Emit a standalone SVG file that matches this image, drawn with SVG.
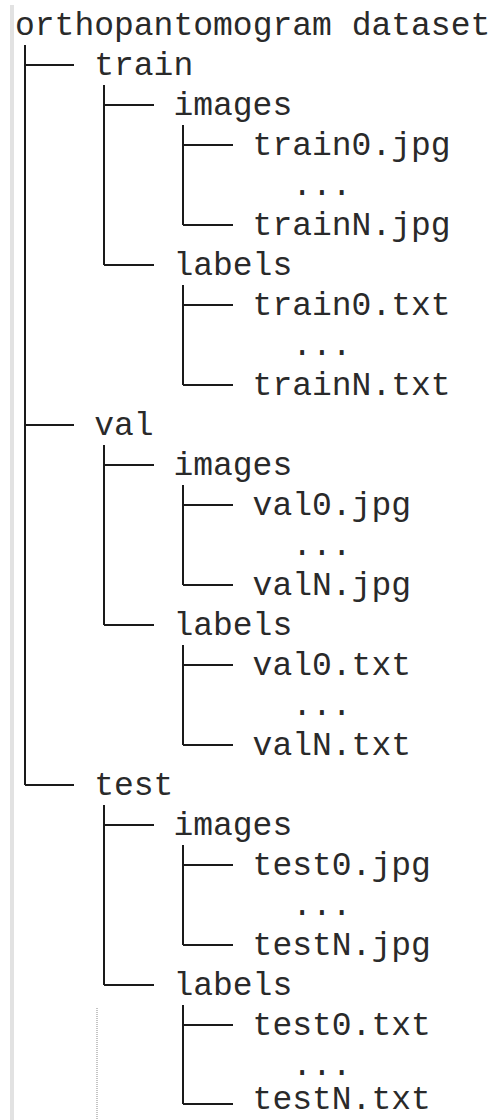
<svg xmlns="http://www.w3.org/2000/svg" width="499" height="1120" viewBox="0 0 499 1120">
<style>
text{font-family:"Liberation Mono","Courier New",monospace;font-size:33px;fill:#2a2a2a;}
.ln{stroke:#1a1a1a;stroke-width:2;fill:none;}
</style>
<rect width="499" height="1120" fill="#ffffff"/>
<rect x="10" y="5" width="4" height="1115" fill="#e2e2e2"/>
<line x1="97" y1="1008" x2="97" y2="1120" stroke="#c4c4c4" stroke-width="2" stroke-dasharray="1 1"/>
<g id="connectors" class="ln">
<path d="M25 45V785M25 65H74M25 425H74M25 785H74"/>
<path d="M104 85V265M104 105H154M104 265H154"/>
<path d="M183 125V225M183 145H233M183 225H233"/>
<path d="M183 285V385M183 305H233M183 385H233"/>
<path d="M104 445V625M104 465H154M104 625H154"/>
<path d="M183 485V585M183 505H233M183 585H233"/>
<path d="M183 645V745M183 665H233M183 745H233"/>
<path d="M104 805V985M104 825H154M104 985H154"/>
<path d="M183 845V945M183 865H233M183 945H233"/>
<path d="M183 1005V1104M183 1025H233M183 1104H233"/>
</g>
<g id="root"><text x="15" y="35">orthopantomogram dataset</text></g>
<g id="train"><text x="94.2" y="75">train</text></g>
<g id="train-images"><text x="173.4" y="115">images</text></g>
<g id="train0-jpg"><text x="252.6" y="155">train0.jpg</text></g>
<g id="train-img-dots"><text x="292.2" y="195">...</text></g>
<g id="trainN-jpg"><text x="252.6" y="235">trainN.jpg</text></g>
<g id="train-labels"><text x="173.4" y="275">labels</text></g>
<g id="train0-txt"><text x="252.6" y="315">train0.txt</text></g>
<g id="train-lbl-dots"><text x="292.2" y="355">...</text></g>
<g id="trainN-txt"><text x="252.6" y="395">trainN.txt</text></g>
<g id="val"><text x="94.2" y="435">val</text></g>
<g id="val-images"><text x="173.4" y="475">images</text></g>
<g id="val0-jpg"><text x="252.6" y="515">val0.jpg</text></g>
<g id="val-img-dots"><text x="292.2" y="555">...</text></g>
<g id="valN-jpg"><text x="252.6" y="595">valN.jpg</text></g>
<g id="val-labels"><text x="173.4" y="635">labels</text></g>
<g id="val0-txt"><text x="252.6" y="675">val0.txt</text></g>
<g id="val-lbl-dots"><text x="292.2" y="715">...</text></g>
<g id="valN-txt"><text x="252.6" y="755">valN.txt</text></g>
<g id="test"><text x="94.2" y="795">test</text></g>
<g id="test-images"><text x="173.4" y="835">images</text></g>
<g id="test0-jpg"><text x="252.6" y="875">test0.jpg</text></g>
<g id="test-img-dots"><text x="292.2" y="915">...</text></g>
<g id="testN-jpg"><text x="252.6" y="955">testN.jpg</text></g>
<g id="test-labels"><text x="173.4" y="995">labels</text></g>
<g id="test0-txt"><text x="252.6" y="1035">test0.txt</text></g>
<g id="test-lbl-dots"><text x="292.2" y="1075">...</text></g>
<g id="testN-txt"><text x="252.6" y="1109">testN.txt</text></g>
</svg>
